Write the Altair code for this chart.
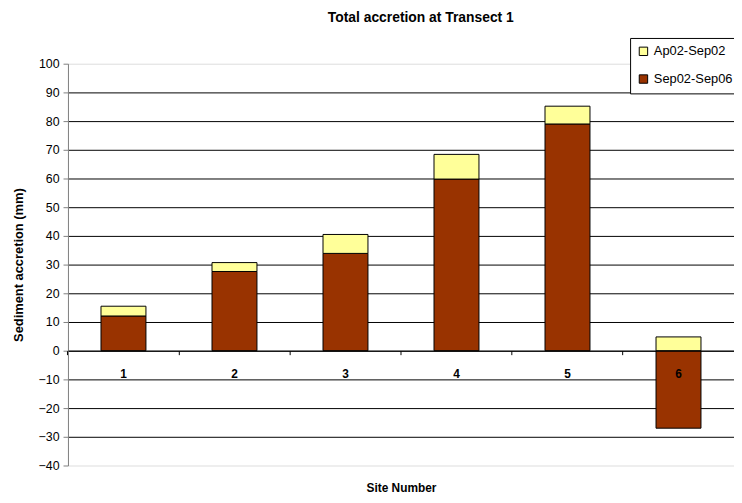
import altair as alt
import pandas as pd

sites = ["1", "2", "3", "4", "5", "6"]
sep02_sep06 = [12.1, 27.6, 33.9, 59.8, 79.0, -27.0]
ap02_sep02 = [3.4, 3.1, 6.6, 8.6, 6.2, 4.8]
series = ["Ap02-Sep02", "Sep02-Sep06"]
colors = ["#FFFF99", "#993300"]
y_ticks = list(range(-40, 101, 10))

rows = []
for s, b, a in zip(sites, sep02_sep06, ap02_sep02):
    rows.append({"site": s, "series": "Sep02-Sep06", "value": b, "ord": 0})
    rows.append({"site": s, "series": "Ap02-Sep02", "value": a, "ord": 1})
df = pd.DataFrame(rows)

font = "Liberation Sans"
W = 673
H = 406

bars = alt.Chart(df).mark_bar(stroke="black", strokeWidth=1).encode(
    x=alt.X(
        "site:N", sort=sites,
        scale=alt.Scale(paddingInner=0.595, paddingOuter=0.2975),
        axis=alt.Axis(
            title="Site Number", labelAngle=0, labelFontWeight="bold", labelFont=font,
            labelFontSize=12, labelColor="black", domainColor="black", tickColor="black",
            tickSize=4, labelPadding=14, bandPosition=-0.7357, offset=-116,
            titleFont=font, titleFontSize=12, titleFontWeight="bold", titleY=133,
            titleBaseline="top", titleColor="black", grid=False, zindex=1,
        ),
    ),
    y=alt.Y(
        "value:Q", stack="zero",
        scale=alt.Scale(domain=[-40, 100], nice=False),
        axis=alt.Axis(
            values=y_ticks, title="Sediment accretion (mm)", labelFont=font, labelFontSize=12.5,
            labelColor="black", tickColor="#808080", domainColor="#808080", tickSize=5,
            labelPadding=4, gridColor="black",
            gridOpacity={"condition": {"test": "datum.value == 100 || datum.value == -40", "value": 0}, "value": 1},
            titleFont=font, titleFontSize=13, titleFontWeight="bold", titleColor="black",
            titleX=-50, titleY=203, titleAlign="center", titleBaseline="middle", zindex=0,
        ),
    ),
    color=alt.Color(
        "series:N",
        scale=alt.Scale(domain=series, range=colors),
        legend=alt.Legend(
            title=None, orient="none", legendX=568, legendY=-26, fillColor="white",
            strokeColor="black", padding=7, symbolType="square", symbolSize=72,
            symbolStrokeColor="black", symbolStrokeWidth=1, labelFont=font, labelFontSize=13,
            labelColor="black", labelOffset=4, rowPadding=14,
        ),
    ),
    order=alt.Order("ord:Q"),
)

chart = bars.properties(
    width=W, height=H,
    title=alt.TitleParams("Total accretion at Transect 1", font=font, fontSize=14,
                          fontWeight="bold", color="black", anchor="middle", dx=20,
                          offset=13, frame="group"),
    autosize=alt.AutoSizeParams(type="none"),
    padding={"left": 60.6, "top": 53.7, "right": 0, "bottom": 35},
).configure_view(stroke="#d0d0d0").configure(background="white")

chart.save("out.html", embed_options={"renderer": "svg", "actions": False})
